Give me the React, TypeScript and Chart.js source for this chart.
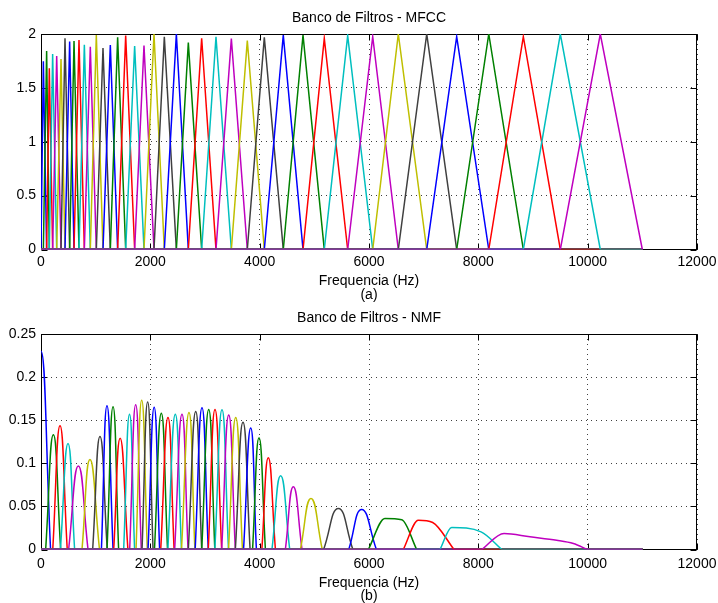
import React, { useEffect, useRef } from 'react';
import { Chart, registerables } from 'chart.js';

Chart.register(...registerables);

const FONT = "'Liberation Sans', Arial, Helvetica, sans-serif";
const MATLAB_COLORS = ['#0000ff', '#008000', '#ff0000', '#00bfbf', '#bf00bf', '#bfbf00', '#404040'];

// Tick labels
const xTicks = [0, 2000, 4000, 6000, 8000, 10000, 12000];
const mfccYTicks = [0, 0.5, 1, 1.5, 2];
const nmfYTicks = [0, 0.05, 0.1, 0.15, 0.2, 0.25];

const freqMax = 11000; // last frequency sample (Hz)

// MFCC triangular filters: edge frequencies (filter i: edges[i] -> edges[i+1] (peak) -> edges[i+2])
const mfccEdges = [
  0, 43, 103, 152, 213, 287, 366, 439, 524, 604, 695, 793, 902, 1012, 1134, 1268, 1402, 1549,
  1713, 1884, 2067, 2256, 2476, 2695, 2939, 3201, 3482, 3774, 4085, 4432, 4793, 5182, 5610,
  6068, 6536, 7056, 7604, 8191, 8823, 9500, 10231, 11000,
];
// MFCC peak heights
const mfccPeaks = [
  1.746, 1.842, 1.681, 1.814, 1.796, 1.768, 1.96, 1.93, 1.935, 1.944, 1.9, 1.882, 1.99, 1.87,
  1.898, 1.969, 1.985, 1.889, 1.892, 2.0, 1.975, 2.0, 1.92, 1.96, 1.975, 1.957, 1.938, 1.97,
  1.99, 1.99, 1.96, 1.985, 1.975, 2.0, 2.0, 1.975, 2.0, 1.975, 2.0, 2.0,
];

// NMF filters: start, peak position, peak height, end (Hz)
const nmfStart = [
  -175, 85, 215, 355, 505, 750, 945, 1105, 1208, 1330, 1512, 1622, 1738, 1848, 1958, 2076,
  2190, 2320, 2445, 2570, 2695, 2820, 2940, 3060, 3180, 3305, 3430, 3555, 3705, 3870, 4040,
  4225, 4470, 4745, 5170, 5630, 5988, 6628, 7299, 8061,
];
const nmfPeakX = [
  0, 226, 348, 494, 683, 896, 1079, 1207, 1318, 1448, 1619, 1732, 1842, 1951, 2070, 2201, 2323,
  2457, 2579, 2707, 2830, 2945, 3068, 3183, 3311, 3434, 3562, 3695, 3836, 3988, 4158, 4384,
  4616, 4939, 5439, 5866, 6290, 6902, 7512, 8470,
];
const nmfPeakY = [
  0.23, 0.133, 0.1435, 0.123, 0.097, 0.1045, 0.131, 0.1668, 0.1656, 0.129, 0.157, 0.168, 0.173,
  0.171, 0.165, 0.158, 0.153, 0.157, 0.157, 0.159, 0.16, 0.1645, 0.1625, 0.1625, 0.162, 0.156,
  0.153, 0.1475, 0.141, 0.1296, 0.1064, 0.0855, 0.0727, 0.0592, 0.0476, 0.0464, 0.036, 0.034,
  0.0255, 0.0186,
];
const nmfEnd = [
  175, 360, 480, 615, 860, 1070, 1212, 1318, 1420, 1590, 1712, 1835, 1945, 2050, 2170, 2315,
  2435, 2570, 2690, 2815, 2940, 3060, 3180, 3305, 3430, 3555, 3685, 3825, 3940, 4105, 4288,
  4550, 4775, 5145, 5705, 6135, 6872, 7555, 8430, 9994,
];
// Extra shoulder points after the peak for the wide high-frequency filters: [filter, Hz, value]
const nmfShoulders: [number, number, number][] = [
  [36, 6600, 0.0345],
  [37, 7165, 0.0313],
  [38, 8050, 0.0205],
  [39, 8945, 0.0147],
  [39, 9433, 0.0108],
  [39, 9738, 0.007],
];

type Pt = { x: number; y: number | null };

function mfccDatasets() {
  const n = mfccPeaks.length;
  return mfccPeaks.map((h, i) => {
    const left = mfccEdges[i];
    const center = mfccEdges[i + 1];
    const right = mfccEdges[i + 2];
    const pts: Pt[] = [];
    if (left > 0) pts.push({ x: 0, y: 0 });
    pts.push({ x: left, y: 0 }, { x: center, y: h }, { x: right, y: 0 });
    if (right < freqMax) pts.push({ x: freqMax, y: 0 });
    return {
      data: pts,
      borderColor: MATLAB_COLORS[i % 7],
      borderWidth: 1.5,
      pointRadius: 0,
      tension: 0,
      fill: false,
      order: n - i,
    };
  });
}

function nmfDatasets() {
  const n = nmfPeakX.length;
  return nmfPeakX.map((px, i) => {
    const pts: Pt[] = [];
    const s = nmfStart[i];
    const e = nmfEnd[i];
    const shoulders = nmfShoulders.filter((r) => r[0] === i);
    // zero tail before the filter (separate segment)
    if (s > 0) pts.push({ x: 0, y: 0 }, { x: s, y: 0 }, { x: s, y: null });
    // the filter lobe
    pts.push({ x: s, y: 0 }, { x: px, y: nmfPeakY[i] });
    shoulders.forEach((r) => pts.push({ x: r[1], y: r[2] }));
    pts.push({ x: e, y: 0 });
    // zero tail after the filter
    if (e < freqMax) pts.push({ x: e, y: null }, { x: e, y: 0 }, { x: freqMax, y: 0 });
    const ds: any = {
      data: pts,
      borderColor: MATLAB_COLORS[i % 7],
      borderWidth: 1.5,
      pointRadius: 0,
      fill: false,
      spanGaps: false,
      order: n - i,
    };
    if (shoulders.length) ds.cubicInterpolationMode = 'monotone';
    else ds.tension = 0.5;
    return ds;
  });
}

const framePlugin = {
  id: 'matlabFrame',
  beforeDatasetsDraw(chart: any) {
    const { ctx, chartArea: a, scales } = chart;
    const L = Math.round(a.left) + 0.5;
    const R = Math.round(a.right) - 0.5;
    const T = Math.round(a.top) + 0.5;
    const B = Math.round(a.bottom) - 0.5;
    ctx.save();
    ctx.strokeStyle = '#000';
    ctx.lineWidth = 1;
    ctx.strokeRect(L, T, R - L, B - T);
    const tl = 6;
    ctx.beginPath();
    scales.x.ticks.forEach((t: any) => {
      const p = Math.round(scales.x.getPixelForValue(t.value)) + 0.5;
      ctx.moveTo(p, B);
      ctx.lineTo(p, B - tl);
      ctx.moveTo(p, T);
      ctx.lineTo(p, T + tl);
    });
    scales.y.ticks.forEach((t: any) => {
      const p = Math.round(scales.y.getPixelForValue(t.value)) + 0.5;
      ctx.moveTo(L, p);
      ctx.lineTo(L + tl, p);
      ctx.moveTo(R, p);
      ctx.lineTo(R - tl, p);
    });
    ctx.stroke();
    ctx.restore();
  },
};

type Layout = {
  titleTop: number;
  titleBoxHeight: number;
  xAxisHeight: number;
  xTickPad: number;
  xTitleLine: number;
  xTitlePadBottom: number;
};

function buildConfig(
  title: string,
  xTitle: string[],
  datasets: any[],
  yTicks: number[],
  yMax: number,
  lay: Layout
): any {
  const tickFont = { family: FONT, size: 14, weight: 'normal' as const, lineHeight: 1.2 };
  return {
    type: 'line',
    data: { datasets },
    plugins: [framePlugin],
    options: {
      responsive: false,
      maintainAspectRatio: false,
      animation: false,
      layout: { padding: { left: 0, right: 21, top: 0, bottom: 0 } },
      plugins: {
        legend: { display: false },
        tooltip: { enabled: false },
        title: { display: false },
      },
      scales: {
        // top axis only carries the plot title, centred over the plot box
        top: {
          type: 'linear',
          position: 'top',
          min: 0,
          max: 12000,
          ticks: { display: false },
          grid: { display: false, drawTicks: false },
          border: { display: false },
          afterFit: (s: any) => {
            s.height = lay.titleBoxHeight;
            s.paddingLeft = 0;
            s.paddingRight = 0;
          },
          title: {
            display: true,
            text: title,
            color: '#000',
            font: { family: FONT, size: 14, weight: 'normal', lineHeight: 1.2 },
            padding: { top: lay.titleTop, bottom: 0 },
          },
        },
        x: {
          type: 'linear',
          position: 'bottom',
          min: 0,
          max: 12000,
          afterBuildTicks: (s: any) => {
            s.ticks = xTicks.map((v) => ({ value: v }));
          },
          afterFit: (s: any) => {
            s.height = lay.xAxisHeight;
            s.paddingLeft = 0;
            s.paddingRight = 0;
          },
          ticks: {
            color: '#000',
            font: tickFont,
            padding: lay.xTickPad,
            maxRotation: 0,
            autoSkip: false,
            callback: (v: any) => String(v),
          },
          grid: { color: 'rgba(0,0,0,0.75)', lineWidth: 1, drawTicks: false },
          border: { display: false, dash: [1, 4] },
          title: {
            display: true,
            text: xTitle,
            color: '#000',
            font: { family: FONT, size: 14, weight: 'normal', lineHeight: lay.xTitleLine + 'px' },
            padding: { top: 0, bottom: lay.xTitlePadBottom },
          },
        },
        y: {
          type: 'linear',
          min: 0,
          max: yMax,
          afterBuildTicks: (s: any) => {
            s.ticks = yTicks.map((v) => ({ value: v }));
          },
          afterFit: (s: any) => {
            s.width = 41;
            s.paddingTop = 0;
            s.paddingBottom = 0;
          },
          ticks: {
            color: '#000',
            font: tickFont,
            padding: 5,
            autoSkip: false,
            callback: (v: any) => String(v),
          },
          grid: { color: 'rgba(0,0,0,0.75)', lineWidth: 1, drawTicks: false },
          border: { display: false, dash: [1, 4] },
        },
      },
    },
  };
}

function ChartCanvas({ height, make }: { height: number; make: () => any }) {
  const ref = useRef<HTMLCanvasElement | null>(null);
  useEffect(() => {
    if (!ref.current) return;
    const chart = new Chart(ref.current, make());
    return () => chart.destroy();
  }, []);
  return <canvas ref={ref} width={718} height={height} style={{ display: 'block', width: 718, height }} />;
}

export default function App() {
  return (
    <div style={{ position: 'fixed', left: 0, top: 0, width: 718, height: 603, background: '#fff' }}>
      <div style={{ position: 'absolute', left: 0, top: 0 }}>
        <ChartCanvas
          height={305}
          make={() =>
            buildConfig('Banco de Filtros - MFCC', ['Frequencia (Hz)', '(a)'], mfccDatasets(), mfccYTicks, 2, {
              titleTop: 9.6,
              titleBoxHeight: 34,
              xAxisHeight: 55.5,
              xTickPad: 4.6,
              xTitleLine: 14,
              xTitlePadBottom: 3.3,
            })
          }
        />
      </div>
      <div style={{ position: 'absolute', left: 0, top: 305 }}>
        <ChartCanvas
          height={298}
          make={() =>
            buildConfig('Banco de Filtros - NMF', ['Frequencia (Hz)', '(b)'], nmfDatasets(), nmfYTicks, 0.25, {
              titleTop: 4.9,
              titleBoxHeight: 29,
              xAxisHeight: 53.5,
              xTickPad: 5.9,
              xTitleLine: 13,
              xTitlePadBottom: 0.2,
            })
          }
        />
      </div>
    </div>
  );
}
